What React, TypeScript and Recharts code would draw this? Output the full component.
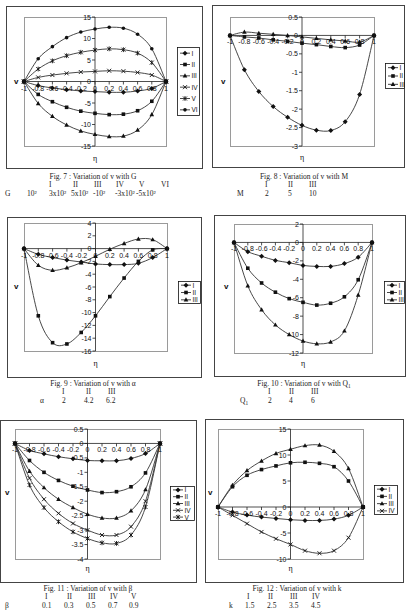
import React from 'react'
import { LineChart, Line, XAxis, YAxis, ReferenceLine, ReferenceDot } from 'recharts'

const ETA = [-1, -0.8, -0.6, -0.4, -0.2, 0, 0.2, 0.4, 0.6, 0.8, 1]
const ETA_LABELS = ['-1', '-0.8', '-0.6', '-0.4', '-0.2', '0', '0.2', '0.4', '0.6', '0.8', '1']
const ROMAN = ['I', 'II', 'III', 'IV', 'V', 'VI']

// Fig. 7 : v with G
const G_VALUES = ['10²', '3x10²', '5x10²', '-10²', '-3x10²', '-5x10²']
const G_I = [0, -0.95, -1.5, -1.9, -2.2, -2.35, -2.5, -2.5, -2.2, -1.6, 0]
const G_II = [0, -3.0, -4.7, -6.0, -6.9, -7.4, -7.7, -7.6, -6.8, -4.6, 0]
const G_III = [0, -5.1, -8.1, -10.1, -11.5, -12.3, -12.8, -12.7, -11.3, -7.7, 0]
const G_IV = [0, 0.95, 1.5, 1.9, 2.2, 2.35, 2.5, 2.4, 2.1, 1.5, 0]
const G_V = [0, 2.9, 4.8, 6.0, 6.8, 7.3, 7.6, 7.4, 6.6, 4.4, 0]
const G_VI = [0, 5.3, 8.1, 10.2, 11.5, 12.2, 12.6, 12.4, 11.0, 7.6, 0]
const G_TICKS = [-15, -10, -5, 0, 5, 10, 15]

// Fig. 8 : v with M
const M_VALUES = ['2', '5', '10']
const M_I = [0, -0.93, -1.52, -1.93, -2.22, -2.44, -2.57, -2.58, -2.34, -1.6, 0]
const M_II = [0, -0.04, -0.07, -0.12, -0.16, -0.21, -0.25, -0.3, -0.33, -0.26, 0]
const M_III = [0, 0.09, 0.06, 0.03, 0.0, -0.04, -0.08, -0.12, -0.15, -0.18, 0]
const M_TICKS = [-3, -2.5, -2, -1.5, -1, -0.5, 0, 0.5]

// Fig. 9 : v with alpha
const A_VALUES = ['2', '4.2', '6.2']
const A_I = [0, -0.9, -1.4, -1.8, -2.1, -2.4, -2.5, -2.5, -2.3, -1.4, 0]
const A_II = [0, -10.5, -14.7, -14.9, -13.1, -10.5, -7.5, -4.6, -2.0, -0.2, 0]
const A_III = [0, -2.6, -3.4, -3.0, -2.2, -1.2, -0.1, 0.8, 1.5, 1.4, 0]
const A_TICKS = [-16, -14, -12, -10, -8, -6, -4, -2, 0, 2, 4]

// Fig. 10 : v with Q1
const Q_VALUES = ['2', '4', '6']
const Q_I = [0, -1.0, -1.5, -1.95, -2.2, -2.5, -2.6, -2.6, -2.3, -1.6, 0]
const Q_II = [0, -2.8, -4.4, -5.4, -6.1, -6.5, -6.8, -6.6, -5.9, -4.05, 0]
const Q_III = [0, -4.7, -7.3, -8.95, -10.0, -10.7, -11.0, -10.8, -9.6, -5.7, 0]
const Q_TICKS = [-12, -10, -8, -6, -4, -2, 0, 2]

// Fig. 11 : v with beta
const B_VALUES = ['0.1', '0.3', '0.5', '0.7', '0.9']
const B_I = [0, -0.24, -0.36, -0.46, -0.53, -0.59, -0.6, -0.6, -0.52, -0.35, 0]
const B_II = [0, -0.59, -1.0, -1.28, -1.48, -1.61, -1.7, -1.67, -1.5, -1.02, 0]
const B_III = [0, -0.96, -1.53, -1.93, -2.22, -2.45, -2.58, -2.58, -2.33, -1.6, 0]
const B_IV = [0, -1.2, -1.93, -2.42, -2.77, -3.0, -3.17, -3.17, -2.88, -2.0, 0]
const B_V = [0, -1.44, -2.22, -2.71, -3.06, -3.29, -3.44, -3.46, -3.17, -2.2, 0]
const B_TICKS = [-4, -3.5, -3, -2.5, -2, -1.5, -1, -0.5, 0, 0.5]

// Fig. 12 : v with k
const K_VALUES = ['1.5', '2.5', '3.5', '4.5']
const K_I = [0, -0.97, -1.55, -1.94, -2.2, -2.45, -2.58, -2.58, -2.33, -1.6, 0]
const K_II = [0, 3.9, 6.1, 7.2, 7.9, 8.5, 8.6, 8.4, 7.75, 5.0, 0]
const K_III = [0, 4.2, 7.0, 8.85, 10.3, 11.1, 11.8, 11.9, 10.7, 7.4, 0]
const K_IV = [0, -1.6, -3.2, -4.8, -6.1, -7.2, -8.4, -8.9, -8.4, -5.9, 0]
const K_TICKS = [-10, -5, 0, 5, 10, 15]

const SANS = '"Liberation Sans", Arial, sans-serif'
const SERIF = '"Liberation Serif", "Times New Roman", serif'
const M = 12

type Kind = 'diamond' | 'square' | 'triangle' | 'cross' | 'star' | 'circle'
const KINDS: Kind[] = ['diamond', 'square', 'triangle', 'cross', 'star', 'circle']

// Excel style smoothed line (Catmull-Rom through the points)
function excelCurve(context: any) {
  let pts: number[][] = []
  return {
    areaStart() {},
    areaEnd() {},
    lineStart() { pts = [] },
    point(x: number, y: number) { pts.push([x, y]) },
    lineEnd() {
      if (!pts.length) return
      context.moveTo(pts[0][0], pts[0][1])
      for (let i = 0; i < pts.length - 1; i++) {
        const p0 = pts[Math.max(i - 1, 0)], p1 = pts[i], p2 = pts[i + 1], p3 = pts[Math.min(i + 2, pts.length - 1)]
        context.bezierCurveTo(
          p1[0] + (p2[0] - p0[0]) / 6, p1[1] + (p2[1] - p0[1]) / 6,
          p2[0] - (p3[0] - p1[0]) / 6, p2[1] - (p3[1] - p1[1]) / 6,
          p2[0], p2[1],
        )
      }
    },
  }
}

function Marker({ cx, cy, kind }: { cx: number; cy: number; kind: Kind }) {
  if (cx == null || cy == null || isNaN(cx) || isNaN(cy)) return null
  const c = '#111'
  switch (kind) {
    case 'diamond':
      return <polygon points={`${cx},${cy - 2.5} ${cx + 2.5},${cy} ${cx},${cy + 2.5} ${cx - 2.5},${cy}`} fill={c} />
    case 'square':
      return <rect x={cx - 1.8} y={cy - 1.8} width={3.6} height={3.6} fill={c} />
    case 'triangle':
      return <polygon points={`${cx},${cy - 2.5} ${cx + 2.3},${cy + 1.7} ${cx - 2.3},${cy + 1.7}`} fill={c} />
    case 'cross':
      return <path d={`M${cx - 2},${cy - 2}L${cx + 2},${cy + 2}M${cx - 2},${cy + 2}L${cx + 2},${cy - 2}`} stroke={c} strokeWidth={0.9} />
    case 'star':
      return <path d={`M${cx - 2},${cy - 2}L${cx + 2},${cy + 2}M${cx - 2},${cy + 2}L${cx + 2},${cy - 2}M${cx},${cy - 2.4}L${cx},${cy + 2.4}`} stroke={c} strokeWidth={0.9} />
    default:
      return <circle cx={cx} cy={cy} r={1.8} fill={c} />
  }
}

function XTick({ cx, cy, label }: any) {
  return (
    <g>
      <line x1={cx} y1={cy} x2={cx} y2={cy + 3} stroke="#222" strokeWidth={0.8} />
      <text x={cx} y={cy + 9} textAnchor="middle" fontSize={7} fontFamily={SANS} fill="#111">{label}</text>
    </g>
  )
}

function YTick({ cx, cy, label }: any) {
  return (
    <g>
      <line x1={cx - 3} y1={cy} x2={cx} y2={cy} stroke="#222" strokeWidth={0.8} />
      <text x={cx - 4} y={cy + 2.5} textAnchor="end" fontSize={7} fontFamily={SANS} fill="#111">{label}</text>
    </g>
  )
}

// text with optional "_x" subscript
function Rich({ s }: { s: string }) {
  const i = s.indexOf('_')
  if (i < 0) return <>{s}</>
  return (
    <>
      {s.slice(0, i)}
      <tspan fontSize="0.7em" dy={1.5}>{s.slice(i + 1)}</tspan>
    </>
  )
}

type PanelCfg = {
  box: number[]
  plot: number[]
  yDomain: number[]
  yTicks: number[]
  series: number[][]
  legend: { x: number; y: number; w: number; h: number }
  vPos: number[]
  etaY: number
  caption: string
  capX: number
  capY: number
  rows: { y: number; items: [string, number][] }[]
}

function row(y: number, labels: string[], xs: number[]): { y: number; items: [string, number][] } {
  return { y, items: labels.map((l, i) => [l, xs[i]] as [string, number]) }
}

const PANELS: PanelCfg[] = [
  {
    box: [6, 6, 203, 169], plot: [24, 17, 166, 146], yDomain: [-15, 15], yTicks: G_TICKS,
    series: [G_I, G_II, G_III, G_IV, G_V, G_VI],
    legend: { x: 177, y: 47, w: 22, h: 68 }, vPos: [14, 84], etaY: 161,
    caption: 'Fig. 7 : Variation of v with G', capX: 93, capY: 179,
    rows: [
      row(187, ROMAN, [49, 73, 94, 116, 139, 161]),
      row(196, ['G', ...G_VALUES], [5, 27, 49, 71, 93, 115, 136]),
    ],
  },
  {
    box: [212, 5, 405, 168], plot: [230, 17, 374, 146], yDomain: [-3, 0.5], yTicks: M_TICKS,
    series: [M_I, M_II, M_III],
    legend: { x: 385, y: 63, w: 19, h: 25 }, vPos: [221, 84], etaY: 160,
    caption: 'Fig. 8 : Variation of v with M', capX: 304, capY: 179,
    rows: [
      row(187, ROMAN.slice(0, 3), [265, 288, 309]),
      row(196, ['M', ...M_VALUES], [237, 265, 288, 309]),
    ],
  },
  {
    box: [7, 217, 202, 378], plot: [24, 223, 167, 351], yDomain: [-16, 4], yTicks: A_TICKS,
    series: [A_I, A_II, A_III],
    legend: { x: 178, y: 281, w: 22, h: 22 }, vPos: [14, 289], etaY: 366,
    caption: 'Fig. 9 : Variation of v with α', capX: 93, capY: 386,
    rows: [
      row(394, ROMAN.slice(0, 3), [62, 86, 108]),
      row(403, ['α', ...A_VALUES], [40, 62, 84, 106]),
    ],
  },
  {
    box: [214, 215, 406, 377], plot: [234, 224, 372, 353], yDomain: [-12, 2], yTicks: Q_TICKS,
    series: [Q_I, Q_II, Q_III],
    legend: { x: 384, y: 281, w: 20, h: 22 }, vPos: [224, 289], etaY: 366,
    caption: 'Fig. 10 : Variation of v with Q_1', capX: 304, capY: 386,
    rows: [
      row(394, ROMAN.slice(0, 3), [268, 289, 311]),
      row(403, ['Q_1', ...Q_VALUES], [240, 268, 289, 311]),
    ],
  },
  {
    box: [0, 420, 197, 583], plot: [15, 429, 160, 559], yDomain: [-4, 0.5], yTicks: B_TICKS,
    series: [B_I, B_II, B_III, B_IV, B_V],
    legend: { x: 170, y: 486, w: 24, h: 34 }, vPos: [5, 495], etaY: 571,
    caption: 'Fig. 11 : Variation of v with β', capX: 88, capY: 591,
    rows: [
      row(599, ROMAN.slice(0, 5), [45, 67, 88, 110, 131]),
      row(608, ['β', ...B_VALUES], [5, 42, 64, 86, 108, 129]),
    ],
  },
  {
    box: [205, 419, 404, 583], plot: [218, 429, 363, 559], yDomain: [-10, 15], yTicks: K_TICKS,
    series: [K_I, K_II, K_III, K_IV],
    legend: { x: 374, y: 485, w: 23, h: 29 }, vPos: [208, 495], etaY: 571,
    caption: 'Fig. 12 : Variation of v with k', capX: 297, capY: 591,
    rows: [
      row(599, ROMAN.slice(0, 4), [247, 268, 290, 312]),
      row(608, ['k', ...K_VALUES], [229, 245, 267, 289, 311]),
    ],
  },
]

function Legend({ cfg }: { cfg: PanelCfg }) {
  const { x, y, w, h } = cfg.legend
  const n = cfg.series.length
  const step = h / n
  return (
    <g>
      <rect x={x + 0.5} y={y + 0.5} width={w} height={h} fill="#fff" stroke="#111" strokeWidth={0.8} />
      {cfg.series.map((_, k) => {
        const cy = y + step * (k + 0.5) + 0.5
        return (
          <g key={k}>
            <line x1={x + 3} y1={cy} x2={x + 13} y2={cy} stroke="#333" strokeWidth={0.9} />
            <Marker cx={x + 8} cy={cy} kind={KINDS[k]} />
            <text x={x + 14.5} y={cy + 2.4} fontSize={6.5} fontFamily={SANS} fill="#111">{ROMAN[k]}</text>
          </g>
        )
      })}
    </g>
  )
}

function Panel({ cfg }: { cfg: PanelCfg }) {
  const [bl, bt, br, bb] = cfg.box
  const [pl, pt, pr, pb] = cfg.plot
  const [lo, hi] = cfg.yDomain
  const data = ETA.map((eta, i) => {
    const r: Record<string, number> = { eta }
    cfg.series.forEach((s, k) => { r['s' + k] = s[i] })
    return r
  })
  return (
    <>
      <div style={{ position: 'absolute', left: bl, top: bt, width: br - bl, height: bb - bt, border: '1.3px solid #444', boxSizing: 'border-box' }} />
      {/* plot-area frame (the chart's margins put the plot exactly here) */}
      <div style={{ position: 'absolute', left: pl, top: pt, width: pr - pl + 1, height: pb - pt + 1, border: '1px solid #9a9a9a', boxSizing: 'border-box' }} />
      <div style={{ position: 'absolute', left: pl - M, top: pt - M }}>
        <LineChart width={pr - pl + 2 * M} height={pb - pt + 2 * M} data={data} margin={{ top: M, right: M, bottom: M, left: M }}>
          <XAxis type="number" dataKey="eta" domain={[-1, 1]} hide />
          <YAxis type="number" domain={[lo, hi]} hide allowDataOverflow />
          <ReferenceLine x={0} stroke="#222" strokeWidth={0.8} />
          <ReferenceLine y={0} stroke="#222" strokeWidth={0.8} />
          {ETA.map((t, i) => (
            <ReferenceDot key={'x' + i} x={t} y={0} r={0} shape={(p: any) => <XTick cx={p.cx} cy={p.cy} label={ETA_LABELS[i]} />} />
          ))}
          {cfg.yTicks.map((t) => (
            <ReferenceDot key={'y' + t} x={0} y={t} r={0} shape={(p: any) => <YTick cx={p.cx} cy={p.cy} label={String(t)} />} />
          ))}
          {cfg.series.map((_, k) => (
            <Line
              key={k}
              dataKey={'s' + k}
              name={ROMAN[k]}
              type={excelCurve as any}
              stroke="#333"
              strokeWidth={0.9}
              dot={(p: any) => <Marker key={'d' + k + '-' + p.index} cx={p.cx} cy={p.cy} kind={KINDS[k]} />}
              activeDot={false}
              isAnimationActive={false}
            />
          ))}
        </LineChart>
      </div>
      <svg width={410} height={614} style={{ position: 'absolute', left: 0, top: 0, pointerEvents: 'none' }}>
        <Legend cfg={cfg} />
        <text x={cfg.vPos[0]} y={cfg.vPos[1]} fontSize={8} fontWeight="bold" fontFamily={SANS} fill="#111">v</text>
        <text x={(pl + pr) / 2} y={cfg.etaY} textAnchor="middle" fontSize={8} fontFamily={SERIF} fill="#111">η</text>
        <text x={cfg.capX} y={cfg.capY} textAnchor="middle" fontSize={7.5} fontFamily={SERIF} fill="#222"><Rich s={cfg.caption} /></text>
        {cfg.rows.map((r, ri) =>
          r.items.map(([s, x], i) => (
            <text key={ri + '-' + i} x={x} y={r.y} fontSize={7.5} fontFamily={SERIF} fill="#222"><Rich s={s} /></text>
          )),
        )}
      </svg>
    </>
  )
}

export default function App() {
  return (
    <div style={{ position: 'absolute', left: 0, top: 0, width: 410, height: 614, background: '#fff', overflow: 'hidden' }}>
      {PANELS.map((p, i) => <Panel key={i} cfg={p} />)}
    </div>
  )
}
